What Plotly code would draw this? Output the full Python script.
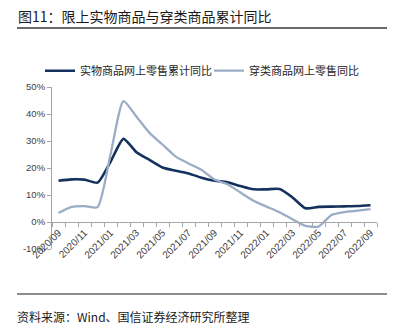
import plotly.graph_objects as go

W, H = 397, 325
# plot area in pixels
L, R, T, B = 52, 377, 87.3, 249.3

months = ["2020/09", "2020/10", "2020/11", "2020/12", "2021/01", "2021/02", "2021/03",
          "2021/04", "2021/05", "2021/06", "2021/07", "2021/08", "2021/09", "2021/10",
          "2021/11", "2021/12", "2022/01", "2022/02", "2022/03", "2022/04", "2022/05",
          "2022/06", "2022/07", "2022/08", "2022/09"]
online_goods = [15.3, 15.8, 15.7, 14.6, 22.3, 30.8, 25.8, 23.0, 20.2, 19.0, 18.0, 16.4, 15.3,
                14.7, 13.3, 12.1, 12.1, 12.2, 9.1, 5.1, 5.6, 5.7, 5.8, 5.9, 6.2]
apparel = [3.3, 5.6, 5.9, 5.5, 25.0, 44.8, 39.0, 33.0, 28.7, 24.3, 21.7, 19.3, 15.7,
           14.0, 10.9, 7.9, 5.7, 3.6, 1.0, -1.4, -1.7, 2.6, 3.7, 4.2, 4.8]
name1 = "实物商品网上零售累计同比"
name2 = "穿类商品网上零售同比"
title = "图11：限上实物商品与穿类商品累计同比"
source = "资料来源：Wind、国信证券经济研究所整理"
y_ticks = [-10, 0, 10, 20, 30, 40, 50]

idx = list(range(len(months)))
label_idx = idx[::2]

DARK = "#15325F"
LIGHT = "#9AADC5"
AX = "#A6A6A6"
CJK = "Noto Sans CJK SC"
LAT = "Arial, Liberation Sans, sans-serif"


def px(x):
    return (x - L) / (R - L)


def py(y):
    return (B - y) / (B - T)


fig = go.Figure()
fig.add_trace(go.Scatter(x=idx, y=online_goods, mode="lines", name=name1,
                         line=dict(color=DARK, width=2.6, shape="spline", smoothing=0.6),
                         legend="legend"))
fig.add_trace(go.Scatter(x=idx, y=apparel, mode="lines", name=name2,
                         line=dict(color=LIGHT, width=2.3, shape="spline", smoothing=0.6),
                         legend="legend2"))

fig.update_layout(
    width=W, height=H,
    margin=dict(l=L, r=W - R, t=T, b=H - B, pad=0, autoexpand=False),
    paper_bgcolor="white", plot_bgcolor="white",
    showlegend=True,
    legend=dict(orientation="h", xref="container", yref="container",
                x=40 / W, y=1 - 70.7 / H, xanchor="left", yanchor="middle",
                font=dict(family=CJK, size=11, color="#262626"),
                bgcolor="rgba(0,0,0,0)", borderwidth=0),
    legend2=dict(orientation="h", xref="container", yref="container",
                 x=209 / W, y=1 - 70.7 / H, xanchor="left", yanchor="middle",
                 font=dict(family=CJK, size=11, color="#262626"),
                 bgcolor="rgba(0,0,0,0)", borderwidth=0),
    xaxis=dict(range=[-0.5, len(months) - 0.5], anchor="free", position=10 / 60,
               showline=True, linecolor=AX, linewidth=1, showgrid=False, zeroline=False,
               tickmode="array", tickvals=label_idx,
               ticktext=[months[i] for i in label_idx],
               ticks="", tickangle=-45,
               tickfont=dict(family=LAT, size=10, color="#404040"),
               minor=dict(tickmode="array", tickvals=[i - 0.5 for i in range(len(months) + 1)],
                          ticks="outside", ticklen=4, tickcolor=AX, tickwidth=1)),
    yaxis=dict(range=[-10, 50], tickmode="array", tickvals=y_ticks,
               ticktext=[f"{v}%" for v in y_ticks],
               showline=True, linecolor=AX, linewidth=1, showgrid=False, zeroline=False,
               ticks="outside", ticklen=4, tickcolor=AX,
               tickfont=dict(family=LAT, size=9.5, color="#404040")),
    font=dict(family=CJK),
)

fig.add_annotation(text=title, xref="paper", yref="paper", x=px(16), y=py(16.5),
                   xanchor="left", yanchor="middle", showarrow=False,
                   font=dict(family=CJK, size=14, color="#1a1a1a"))
fig.add_annotation(text=source, xref="paper", yref="paper", x=px(15), y=py(316.5),
                   xanchor="left", yanchor="middle", showarrow=False,
                   font=dict(family=CJK, size=12, color="#1a1a1a"))
fig.add_shape(type="line", xref="paper", yref="paper", x0=px(17), x1=px(387),
              y0=py(28.3), y1=py(28.3), line=dict(color="#3a3a3a", width=1.5))
fig.add_shape(type="line", xref="paper", yref="paper", x0=px(17), x1=px(387),
              y0=py(294.3), y1=py(294.3), line=dict(color="#1a1a1a", width=1))

fig.write_html("out.html")
